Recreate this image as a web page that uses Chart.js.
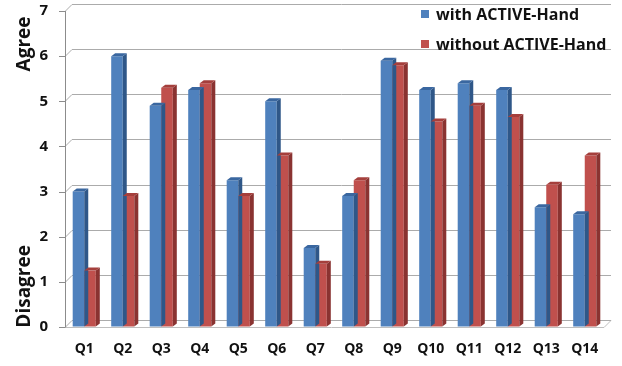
<!DOCTYPE html>
<html>
<head>
<meta charset="utf-8">
<script src="https://cdn.jsdelivr.net/npm/chart.js@4.4.0/dist/chart.umd.min.js"></script>
<style>
html,body{margin:0;padding:0;background:#fff;}
#wrap{width:622px;height:366px;position:relative;}
</style>
</head>
<body>
<div id="wrap"><canvas id="c" width="622" height="366"></canvas></div>
<script>
const categories = ["Q1","Q2","Q3","Q4","Q5","Q6","Q7","Q8","Q9","Q10","Q11","Q12","Q13","Q14"];
const withActiveHand    = [3.0, 6.0, 4.9, 5.25, 3.25, 5.0, 1.75, 2.9, 5.9, 5.25, 5.4, 5.25, 2.65, 2.5];
const withoutActiveHand = [1.25, 2.9, 5.3, 5.4, 2.9, 3.8, 1.4, 3.25, 5.8, 4.55, 4.9, 4.65, 3.15, 3.8];
const seriesNames = ["with ACTIVE-Hand", "without ACTIVE-Hand"];
const yTicks = [0,1,2,3,4,5,6,7];
const sideTitles = [{text:"Agree", value:6.27}, {text:"Disagree", value:0.9}];

const FONT = "'Open Sans', 'Noto Sans', sans-serif";
const DX = 7, DY = -7;

const colors = [
  {face:'#4F81BD', side:'#2F5788', top:'#3A67A0'},
  {face:'#C0504D', side:'#8A3331', top:'#A53F3C'}
];

const wallPlugin = {
  id:'wall',
  beforeDatasetsDraw(chart){
    const ctx = chart.ctx, y = chart.scales.y, a = chart.chartArea;
    ctx.save();
    ctx.lineWidth = 1;
    const yb = Math.round(y.getPixelForValue(0)) + 0.5;
    ctx.strokeStyle = '#BFBFBF';
    ctx.beginPath();
    ctx.moveTo(a.left - 6, yb);
    ctx.lineTo(a.right, yb);
    ctx.lineTo(a.right + DX, yb + DY);
    ctx.lineTo(a.left + DX, yb + DY);
    ctx.stroke();
    yTicks.forEach(v => {
      const py = Math.round(y.getPixelForValue(v)) + 0.5;
      ctx.strokeStyle = '#ABABAB';
      ctx.beginPath();
      ctx.moveTo(a.left, py);
      ctx.lineTo(a.left + DX, py + DY);
      ctx.lineTo(a.right + DX, py + DY);
      ctx.stroke();
      ctx.strokeStyle = '#8C8C8C';
      ctx.beginPath();
      ctx.moveTo(a.left - 6, py);
      ctx.lineTo(a.left, py);
      ctx.stroke();
    });
    ctx.strokeStyle = '#8C8C8C';
    ctx.beginPath();
    ctx.moveTo(Math.round(a.left) + 0.5, y.getPixelForValue(7));
    ctx.lineTo(Math.round(a.left) + 0.5, yb);
    ctx.stroke();
    ctx.restore();
  }
};

const depthPlugin = {
  id:'depth',
  afterDatasetsDraw(chart){
    const ctx = chart.ctx;
    const d = 4, e = -3;
    ctx.save();
    chart.data.datasets.forEach((ds, i) => {
      const meta = chart.getDatasetMeta(i);
      meta.data.forEach(bar => {
        const p = bar.getProps(['x','y','base','width'], true);
        const l = p.x - p.width/2, r = p.x + p.width/2;
        ctx.fillStyle = colors[i].side;
        ctx.beginPath();
        ctx.moveTo(r, p.y);
        ctx.lineTo(r + d, p.y + e);
        ctx.lineTo(r + d, p.base + e);
        ctx.lineTo(r, p.base);
        ctx.closePath();
        ctx.fill();
        ctx.fillStyle = colors[i].top;
        ctx.beginPath();
        ctx.moveTo(l, p.y);
        ctx.lineTo(l + d, p.y + e);
        ctx.lineTo(r + d, p.y + e);
        ctx.lineTo(r, p.y);
        ctx.closePath();
        ctx.fill();
      });
    });
    ctx.restore();
  }
};

const legendPlugin = {
  id:'customLegend',
  afterDraw(chart){
    const ctx = chart.ctx, a = chart.chartArea;
    ctx.save();
    ctx.font = "bold 16px " + FONT;
    ctx.textBaseline = 'middle';
    chart.data.datasets.forEach((ds, i) => {
      const x = a.right - 183, yy = 14 + i * 30;
      ctx.fillStyle = ds.backgroundColor;
      ctx.fillRect(x, yy - 4, 8, 8);
      ctx.fillStyle = '#111';
      ctx.fillText(ds.label, x + 15, yy + 1);
    });
    ctx.restore();
  }
};

const titlePlugin = {
  id:'sideTitles',
  afterDraw(chart){
    const ctx = chart.ctx, y = chart.scales.y;
    ctx.save();
    ctx.font = "bold 19px " + FONT;
    ctx.fillStyle = '#111';
    ctx.textAlign = 'center';
    ctx.textBaseline = 'middle';
    sideTitles.forEach(t => {
      ctx.save();
      ctx.translate(25, y.getPixelForValue(t.value));
      ctx.rotate(-Math.PI/2);
      ctx.fillText(t.text, 0, 0);
      ctx.restore();
    });
    ctx.restore();
  }
};

new Chart(document.getElementById('c'), {
  type:'bar',
  data:{
    labels: categories,
    datasets:[
      {label: seriesNames[0], data: withActiveHand, backgroundColor: colors[0].face, borderWidth:0},
      {label: seriesNames[1], data: withoutActiveHand, backgroundColor: colors[1].face, borderWidth:0}
    ]
  },
  options:{
    responsive:false,
    animation:false,
    devicePixelRatio:1,
    layout:{padding:{left:5, right:18, top:11, bottom:6}},
    datasets:{bar:{categoryPercentage:0.6, barPercentage:1.0}},
    plugins:{legend:{display:false}, tooltip:{enabled:false}},
    scales:{
      y:{
        min:0, max:7,
        ticks:{stepSize:1, padding:0, color:'#111', font:{family:FONT, weight:'bold', size:15}},
        grid:{display:true, drawOnChartArea:false, color:'rgba(0,0,0,0)', tickLength:17},
        border:{display:false},
        afterFit(s){ s.width = 60; }
      },
      x:{
        ticks:{padding:6, color:'#111', font:{family:FONT, weight:'bold', size:14}},
        grid:{display:false},
        border:{display:false},
        afterFit(s){ s.height = 33; }
      }
    }
  },
  plugins:[wallPlugin, depthPlugin, legendPlugin, titlePlugin]
});
</script>
</body>
</html>
